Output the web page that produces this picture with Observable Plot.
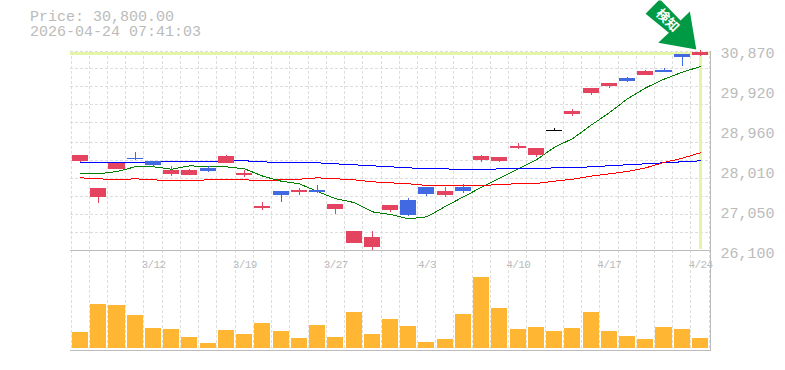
<!DOCTYPE html>
<html><head><meta charset="utf-8">
<script src="https://cdn.jsdelivr.net/npm/d3@7"></script>
<script src="https://cdn.jsdelivr.net/npm/@observablehq/plot@0.6"></script>
<style>
html,body{margin:0;padding:0;background:#fff;overflow:hidden}
#wrap{position:relative;width:785px;height:370px}
#title{position:absolute;left:30px;top:10px;font:15px/15px "Liberation Mono",monospace;color:#bbb;white-space:pre;z-index:2}
#price,#volume{position:absolute;left:0}
#price{top:0}#volume{top:250px}
#volume text{letter-spacing:-.6px}
svg{overflow:visible}
</style></head><body>
<div id="wrap">
<div id="title">Price: 30,800.00
2026-04-24 07:41:03</div>
<div id="price"></div><div id="volume"></div>
</div>
<script>
const opens  = [28294,27436,28104,28366,28294,27984,27960,28127,28247,27960,27173,27579,27555,27603,27149,26339,26243,27126,27364,27674,27483,27674,28318,28294,28604,28437,29045,29415,29916,30083,30274,30345,30465,30846,30822];
const closes = [28437,27650,28247,28342,28199,28080,28080,28056,28414,28008,27221,27483,27603,27555,27269,26625,26482,27245,27006,27507,27579,27579,28414,28390,28652,28604,29045,29487,30035,30154,30202,30441,30417,30775,30894];
const highs  = [28437,27650,28247,28510,28294,28175,28103,28175,28437,28080,27316,27579,27650,27722,27269,26625,26625,27245,27412,27674,27674,27746,28437,28390,28724,28604,29081,29534,30035,30154,30298,30465,30512,30846,30942];
const lows   = [28270,27293,28104,28318,28151,27936,27960,28032,28247,27913,27126,27316,27483,27531,27030,26339,26148,27078,26982,27459,27436,27531,28270,28270,28580,28390,29010,29367,29868,30035,30178,30345,30417,30560,30798];
const volumes= [16,44,43,33,20,19,11,5,18,14,25,17,10,23,11,36,14,29,22,6,9,34,71,40,19,21,17,20,36,17,12,9,21,19,10];
const maGreen= [28001,28001,28056,28168,28168,28111,28192,28168,28168,28120,27944,27825,27762,27579,27405,27316,27094,27030,26927,26975,27221,27452,27681,27896,28120,28335,28635,28843,29160,29456,29790,30052,30257,30424,30560];
const maBlue = [28263,28263,28263,28263,28287,28287,28287,28287,28311,28311,28287,28263,28263,28263,28239,28216,28192,28168,28144,28120,28120,28096,28096,28120,28120,28120,28144,28144,28168,28192,28216,28239,28263,28287,28311];
const maRed  = [27905,27882,27858,27882,27858,27834,27834,27858,27858,27858,27834,27858,27872,27905,27882,27858,27810,27786,27762,27722,27715,27715,27715,27750,27762,27770,27825,27872,27944,28001,28056,28144,28270,28373,28502];
const priceTicks = [30870,29920,28960,28010,27050,26100];
const gridPrices = [30918,30512,30083,29654,29224,28747,28318,27889,27459,27030,26601];
const dateIndex  = [4,9,14,19,24,29,34];
const dateLabels = ["3/12","3/19","3/27","4/3","4/10","4/17","4/24"];
const lastPrice = 30870, lastIndex = 34, crossLow = 26195;
const badgeText = "検知";
const n = opens.length;
const idx = d3.range(n);
const gridX = d3.range(36).map(k => k - 0.52);
const kind = i => closes[i] > opens[i] ? "up" : closes[i] < opens[i] ? "down" : "flat";
const colorOpt = {domain:["up","down","flat"], range:["#e4445f","#4169e1","#000000"]};
const mono = "Liberation Mono, monospace";
const xOpt = {domain:[-0.55,34.55], axis:null};
const gridStyle = {stroke:"#ddd", strokeDasharray:"3,2", strokeWidth:1, shapeRendering:"crispEdges"};
const arrowShape = {draw(c){
  c.moveTo(0,0);c.lineTo(-38,-6.7);c.lineTo(-27.4,-16.7);c.lineTo(-50.7,-35.7);
  c.lineTo(-37.7,-49);c.lineTo(-35.2,-49);c.lineTo(-15.7,-29);c.lineTo(-6.4,-38);c.closePath();
}};
const line = (vals,stroke)=>Plot.line(idx,{x:i=>i,y:i=>vals[i],stroke,strokeWidth:1,shapeRendering:"crispEdges"});

const price = Plot.plot({
  width:785,height:270,marginLeft:70,marginRight:75,marginTop:51,marginBottom:20,
  style:{background:"transparent",overflow:"visible"},
  x:xOpt,
  y:{domain:[26100,30870],range:[253,53],axis:null},
  color:colorOpt,
  marks:[
    Plot.ruleX(gridX,{x:d=>d,...gridStyle}),
    Plot.ruleY(gridPrices,{y:d=>d,...gridStyle}),
    Plot.ruleY([lastPrice],{y:d=>d,stroke:"#e4f5a8",strokeWidth:3}),
    Plot.ruleX([lastIndex],{x:d=>d,y1:lastPrice,y2:crossLow,stroke:"#e4f5a8",strokeWidth:3}),
    Plot.frame({anchor:"bottom",stroke:"#bbb",shapeRendering:"crispEdges"}),
    Plot.frame({anchor:"right",stroke:"#bbb",shapeRendering:"crispEdges"}),
    line(maGreen,"#008000"),line(maBlue,"#0000ff"),line(maRed,"#ff0000"),
    Plot.ruleX(idx,{x:i=>i,y1:i=>lows[i],y2:i=>highs[i],stroke:kind,strokeWidth:1,shapeRendering:"crispEdges"}),
    Plot.rect(idx.filter(i=>kind(i)!=="flat"),{x1:i=>i-0.44,x2:i=>i+0.44,y1:i=>opens[i],y2:i=>closes[i],fill:kind,shapeRendering:"crispEdges"}),
    Plot.ruleY(idx.filter(i=>kind(i)==="flat"),{x1:i=>i-0.44,x2:i=>i+0.44,y:i=>opens[i],stroke:kind,strokeWidth:1,shapeRendering:"crispEdges"}),
    Plot.dot([0],{x:()=>33.77,y:()=>30965,r:1,symbol:arrowShape,fill:"#009a44",stroke:"none"}),
    Plot.text([badgeText],{x:()=>32.19,y:()=>31657,text:d=>d,rotate:45,fill:"#fff",fontSize:13,fontWeight:"bold",fontFamily:"Noto Sans CJK JP"}),
    Plot.axisY(priceTicks,{anchor:"right",tickSize:0,tickPadding:10,label:null,tickFormat:d3.format(","),fill:"#bbb",fontSize:15,fontFamily:mono})
  ]
});
document.getElementById("price").append(price);

const volume = Plot.plot({
  width:785,height:120,marginLeft:70,marginRight:75,marginTop:0,marginBottom:20,
  style:{background:"transparent",overflow:"visible"},
  x:xOpt,
  y:{domain:[0,98],range:[98,0],axis:null},
  marks:[
    Plot.ruleX(gridX,{x:d=>d,...gridStyle}),
    Plot.rectY(idx,{x1:i=>i-0.44,x2:i=>i+0.44,y1:0,y2:i=>volumes[i],fill:"#ffb733",shapeRendering:"crispEdges"}),
    Plot.frame({anchor:"top",stroke:"#bbb",shapeRendering:"crispEdges"}),
    Plot.frame({anchor:"bottom",stroke:"#bbb",shapeRendering:"crispEdges"}),
    Plot.frame({anchor:"right",stroke:"#bbb",shapeRendering:"crispEdges"}),
    Plot.axisX(dateIndex,{anchor:"top",tickSize:0,tickPadding:-17,label:null,tickFormat:d=>dateLabels[dateIndex.indexOf(d)],fill:"#bbb",fontSize:11,fontFamily:mono})
  ]
});
document.getElementById("volume").append(volume);
</script>
</body></html>
